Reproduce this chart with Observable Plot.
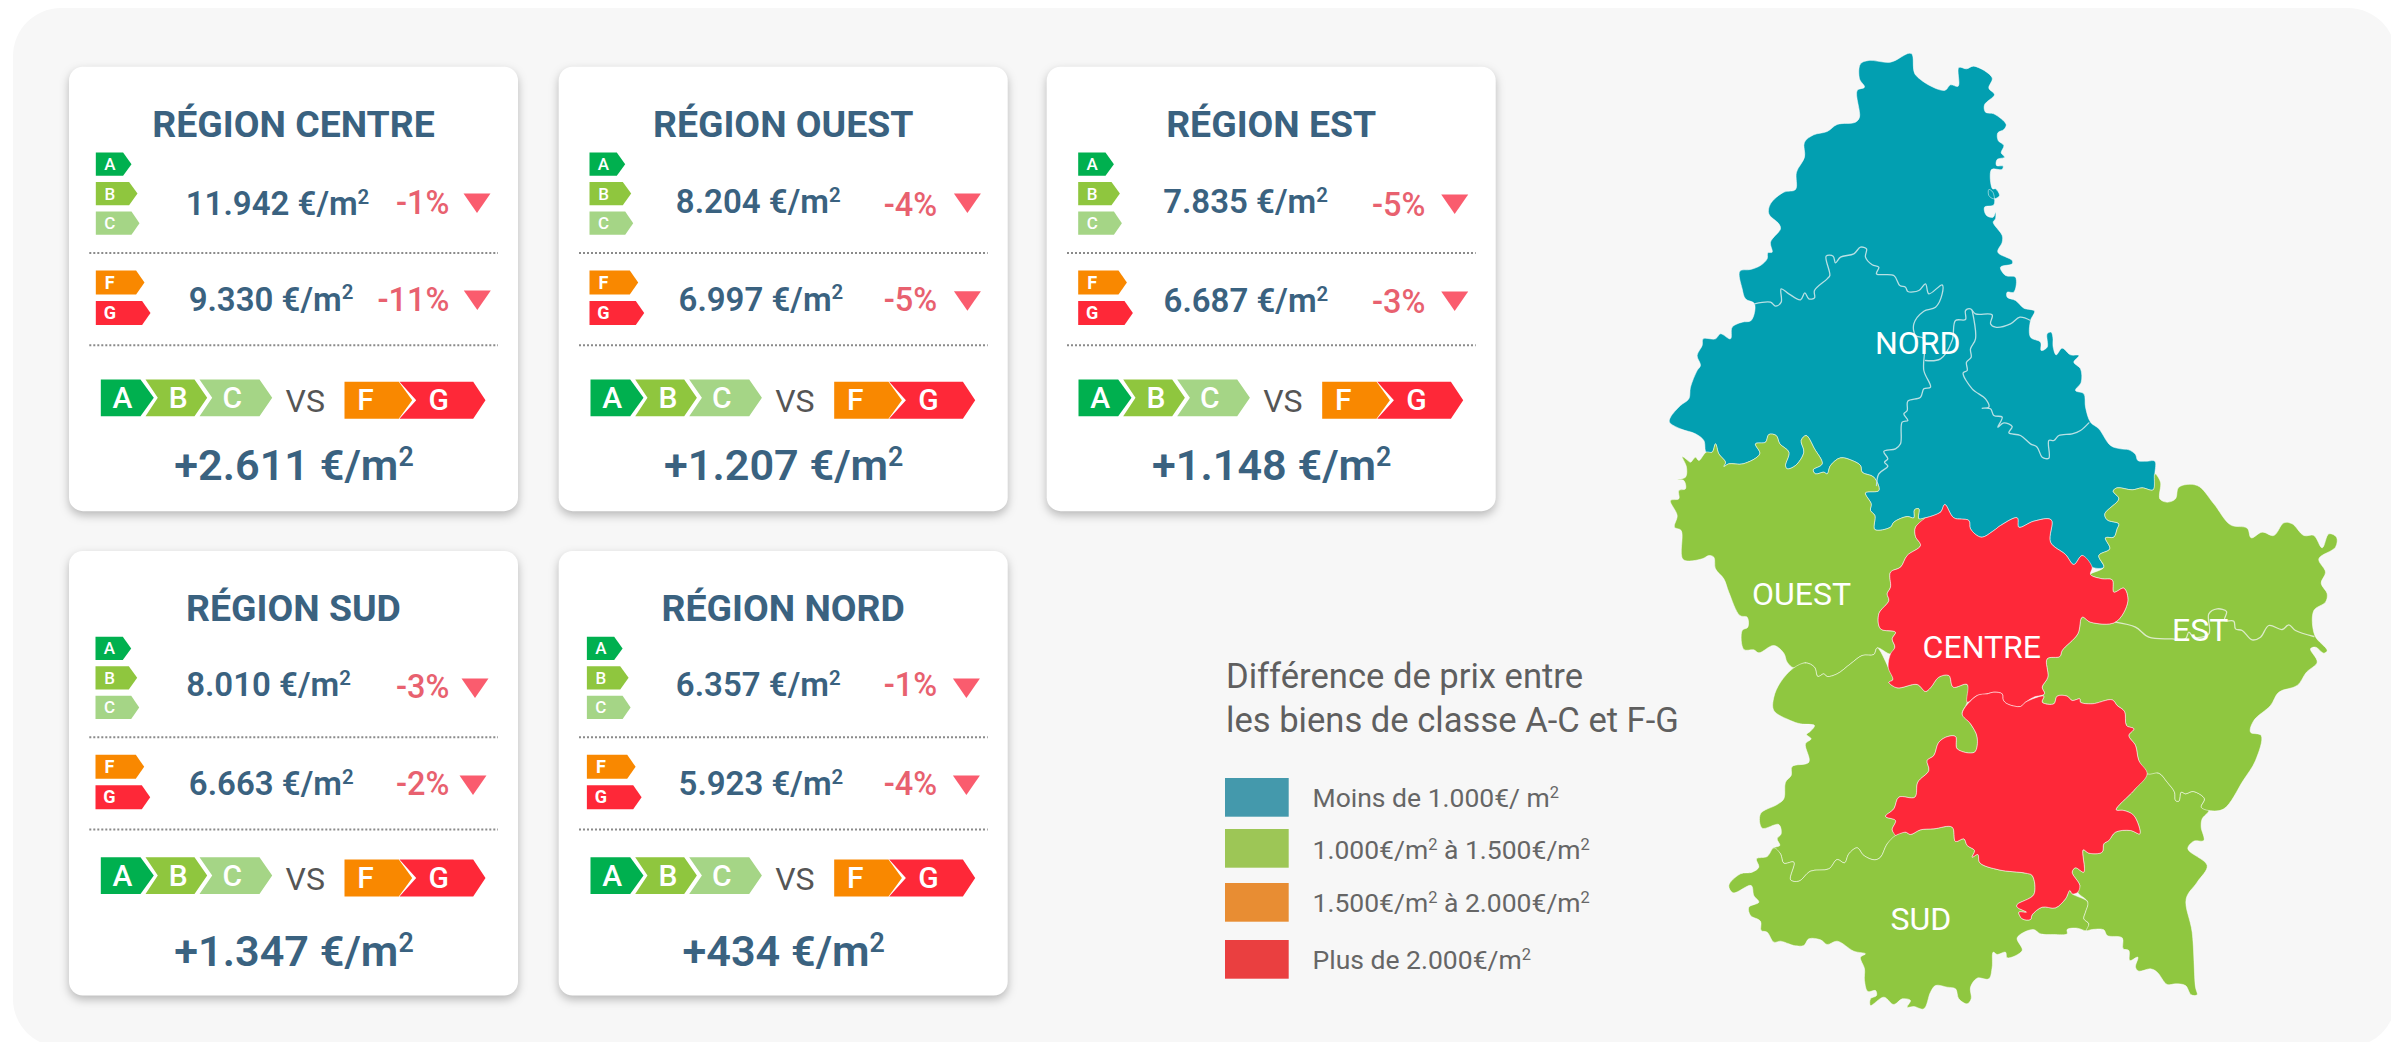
<!DOCTYPE html>
<html lang="fr">
<head>
<meta charset="utf-8">
<script src="https://cdn.jsdelivr.net/npm/d3@7"></script>
<script src="https://cdn.jsdelivr.net/npm/@observablehq/plot@0.6"></script>
<style>
html,body{margin:0;padding:0;background:#fff}
svg{display:block}
</style>
</head>
<body>
<div id="chart"></div>
<script>
// ---- chart values ----
const regionNames = ["RÉGION CENTRE","RÉGION OUEST","RÉGION EST","RÉGION SUD","RÉGION NORD"];
const pricesAC   = [11942, 8204, 7835, 8010, 6357];
const changesAC  = [-1, -4, -5, -3, -1];
const pricesFG   = [9330, 6997, 6687, 6663, 5923];
const changesFG  = [-11, -5, -3, -2, -4];
const priceGaps  = [2611, 1207, 1148, 1347, 434];
const classesGood = ["A","B","C"];
const classesBad  = ["F","G"];
const legendTitle = ["Différence de prix entre","les biens de classe A-C et F-G"];
const legendLabels = ["Moins de 1.000€/ m²","1.000€/m² à 1.500€/m²","1.500€/m² à 2.000€/m²","Plus de 2.000€/m²"];
const legendColors = ["#4499ac","#9dc656","#e88d33","#ea3f40"];
const mapLabels = ["NORD","OUEST","CENTRE","EST","SUD"];

// ---- map outline (frames: picture offset of each traced view) ----
const fA=[1660,45], fB=[1660,430], fC=[2000,430], fD=[1720,730];
const nordEast=[[fA,[752,24,765,88,852,135,870,118,893,122,895,66,918,70,940,62,995,97,985,128,1002,147,972,178,975,200,1000,205,1037,237,1030,252,1012,262,1013,285,1030,300,1022,322,1032,335,1010,342,1008,360,1028,362,1024,372,993,372,996,430,1005,430,1017,450,1000,460,985,450,985,432,997,440,1000,478,972,485,978,510,998,515,1005,500,1005,520,998,530,1025,570,1025,590,1012,620,1055,645,1055,655,1020,665,1035,690,1065,695,1060,740,1040,740,1040,755,1065,765,1090,788,1122,797,1110,825,1110,875,1140,890,1142,915,1160,905,1160,865,1172,860,1177,875,1178,905,1187,928,1205,908,1230,928,1255,930,1240,950,1260,970,1262,1010,1245,1035,1270,1045,1275,1085,1290,1130,1315,1150,1350,1200]],[fC,[360,55,385,58,405,72,412,90,440,92,463,92]]];
const borderNordEst=[[fC,[463,130,458,178,425,172,395,178,350,172,338,182,355,205,313,250,320,268,355,280,350,295,340,320,315,322,328,355,295,375,310,410]]];
const borderNordCentre=[[fC,[275,410,245,375,220,402,195,372,150,335,152,268,100,272,55,290,50,262,0,285]],[fB,[1000,300,962,320,930,295,925,270,880,262,853,222,840,245,795,262]]];
const borderStrip=[[fB,[775,265,775,235,762,238,760,262,740,258,700,275,690,290,643,297]]];
const borderNordOuest=[[fB,[643,255,630,240,632,220,615,187,655,180,640,140,605,125,600,105,575,90,540,82,510,105,500,130,490,125,465,130,458,118,485,100,462,55,437,15,422,30,430,65,405,105,380,115,375,105,385,65,358,40,347,15,325,12,315,35,285,40,298,70,248,100,205,100,190,108,195,95,175,70,165,40,155,65,137,65]]];
const nordWest=[[fA,[130,1185,105,1165,60,1150,27,1130,30,1115,60,1080,85,1060,90,1025,110,975,120,960,110,930,125,900,128,880,165,880,180,865,210,880,215,845,245,830,272,825,282,775,255,760,245,730,238,677,270,672,300,660,320,640,322,622,335,620,330,590,360,550,355,535,325,505,330,475,370,440,405,432,408,380,432,335,432,290,460,268,500,258,530,237,585,230,597,215,590,135,612,125,597,100,600,55,625,45,690,50]]];
const ouestNorthWest=[[fB,[65,78,80,88,90,95,105,80,115,90]]];
const borderOuestCentre=[[fB,[795,262,765,290,765,318,780,345,740,375,720,410,690,425,690,470,680,490,685,510,655,550,660,595,705,605,695,625,703,650,690,670]]];
const borderOuestCap=[[fB,[650,652,640,672,605,675,570,700,530,730,500,738,490,730,472,738,462,710,435,697,400,712]]];
const ouestWest=[[fB,[380,695,370,668,340,645,295,667,280,658,250,657,245,600,262,590,260,560,238,555,205,485,190,445,165,415,160,380,145,375,125,385,68,387,62,300,42,290,50,255,30,210,55,205,55,180,75,175,70,150,50,147,75,140,78,110]]];
const borderCapCentre=[[fB,[683,710,697,748,685,755,710,772,770,762,795,783,810,772,835,740,865,735,878,770,920,762,920,815]]];
const borderCapLower=[[fB,[905,850,930,880,950,920,942,965,890,955,885,918,862,918]],[fD,[655,35,640,75,620,90,625,120,592,155,583,200,535,200,520,235,495,258,525,270,515,298,525,315]]];
const borderCapSud=[[fD,[500,340,480,380,462,388,430,375,410,352,385,370,372,397,350,387,325,415,270,422,235,452,210,448,220,395,190,398,180,370,160,352]]];
const capWest=[[fD,[178,345,170,325,182,310,175,282,125,293,120,250,170,222,190,205,195,155,212,135,215,108,265,95,255,40,272,25,258,12,270,2]],[fB,[462,885,420,880,390,870,340,840,340,800,360,755]]];
const borderCentreEstA=[[fC,[270,432,305,445,335,448,340,485,370,473,382,512,345,575,270,575,245,560,232,610,185,660,178,678,140,685,142,740,125,770,132,790,100,800]]];
const borderCentreMid=[[fC,[75,815,60,828,20,820,8,808,5,790]],[fB,[1000,785,980,790,950,795]]];
const borderCentreEstB=[[fC,[130,797,125,815,160,820,170,797,200,797,215,810,238,805,240,815,275,820,335,808,350,825,372,843,378,885,400,895,385,915,405,945,415,990]]];
const borderLowerSE=[[fD,[1280,130,1240,180,1187,238,1210,240,1240,255,1258,310,1230,300,1185,305,1165,330,1150,340,1145,365,1105,368,1088,358,1090,425,1065,412,1055,425,1078,465,1072,485]]];
const borderLowerSud=[[fD,[1055,490,1048,480,1035,505,1005,532,965,530,935,553,930,567,905,565,895,545,918,545,890,530,890,522,940,492,935,435,915,428,835,418,778,397,772,372,755,380,762,360,740,345,730,325,705,333,695,290,640,295,600,298,570,312,555,305,525,315]]];
const borderSudSE=[[fD,[1102,515,1095,545,1090,565,1105,580,1098,600]]];
const sudOuter=[[fD,[1070,593,1040,597,1040,610,1000,612,960,610,938,597,890,622,905,660,860,682,855,665,830,672,818,665,815,710,805,745,770,743,750,770,752,805,740,820,715,805,705,775,680,770,645,765,630,785,610,835,580,828,560,830,570,810,545,805,520,822,490,800,450,825,450,805,468,795,465,780,442,783,432,750,432,715,420,680,435,670,400,662,350,632,320,642,300,628,265,625,250,645,220,645,205,640,180,632,160,635,140,605,122,600,120,572,90,555,85,530,115,515,100,495,92,465,38,487,25,465,60,430,95,425,115,410,108,385,140,378]]];
const borderEstSE=[[fD,[1315,128,1340,155,1362,185,1365,210,1375,212,1382,185,1395,190,1418,183,1452,205,1442,230,1465,240]]];
const seOuter=[[fD,[1445,265,1442,290,1450,330,1420,332,1402,355,1460,405,1430,455,1397,505,1415,605,1425,770,1430,793,1412,793,1395,765,1365,760,1340,762,1310,725,1290,715,1255,722,1245,710,1252,680,1228,690,1225,660,1208,655,1205,622,1160,615,1150,598,1115,597]]];
const estOuter=[[fC,[480,155,478,205,500,215,525,205,535,170,590,165,640,220,690,283,740,293,752,322,785,305,820,315,850,277,875,280,910,315,940,315,965,352,985,310,1008,320,1005,350,955,385,975,425,962,458,980,490,975,515,940,540,943,615,980,660,970,668,945,650,930,655,950,695,918,725,890,765,835,785,810,825,760,870,750,905,782,915,765,990]],[fD,[1568,150,1510,235]]];
const cantonLines=[
 [[fA,[282,775,330,770,345,782,362,770,362,730,385,745,420,763,433,742,445,760,462,757,462,735,500,700,508,690,497,632,518,632,525,652,540,635,580,625,600,605,618,610,615,635,635,658,655,665,648,685,700,690,718,720,735,725,742,738,775,735,795,715,805,745,845,718,845,745,825,785,790,797,760,835,765,870,790,880,790,975,810,1025,790,1030,780,1055,742,1067,740,1095,730,1105,742,1125,725,1130,720,1195,705,1210,670,1218,682,1240,672,1250,682,1262,655,1285,648,1320]]],
 [[fA,[1110,825,1078,815,1050,835,1005,845,990,835,995,808,945,805,930,790,915,795,915,822,885,825,875,885,840,940,795,945]]],
 [[fA,[935,795,945,880,930,910,932,935,918,950,920,975,908,982,935,1030,975,1060,985,1085,965,1088,990,1090,1000,1110,1025,1115,1012,1145,1030,1132,1055,1143,1045,1162,1080,1170,1110,1195,1130,1205,1145,1235,1165,1238,1165,1185,1180,1185,1195,1170,1235,1165,1260,1155,1285,1132]]]
];
const eastLine=[[fC,[345,575,405,590,445,620,515,625,555,625,565,605,580,620,625,610,625,550,650,535,678,543,672,570,700,572,705,595,725,600,755,628,780,620,805,585,845,597,865,583,885,600,940,618]]];

// ---- layout ----
const W=2391,H=1042;
const cardX=[69,558.7,1046.7,69,558.7], cardY=[66.7,66.7,66.7,551,551], cardW=449, cardH=444.5;
const tagDx=[26.3,30.3,31,26,27.7];
const v1Cx=[208,199,198.3,199,199], v1Base=[147.7,146,146,144.7,144.7];
const p1Right=[380,378,378.3,380,378], p1Base=[146.7,148.3,148.3,146.7,144];
const t1Left=[394,394.7,394,392,393.7], t1Top=[126.3,126.3,127.3,127,127];
const v2Cx=[201.5,201.7,198.7,201.7,201.7], v2Base=[243.3,243.3,245,243.7,243.7];
const p2Right=[380,378,378.3,380,378], p2Base=[243.3,243.3,246,243,243.7];
const t2Left=[394.3,394.7,394,390,393.7], t2Top=[223.3,224,224.3,224,224];
const chevTop=[312.3,312.3,312.3,305.7,305.7];
const vsBase=[345,345,345,338.3,338.3], bigBase=[413,413,413,414.7,414.7];
const classColor={A:"#00b04f",B:"#8fc63e",C:"#a5d586",F:"#f98800",G:"#fe2838"};
const tagGeom={A:[85.3,23.3,27.3,35.7],B:[114.7,23.3,33.3,41.7],C:[144.3,23.3,35.7,43.7],F:[203.3,24,40.3,48.7],G:[233.7,24,46.3,54.7]};
const chevGeom={A:[31.3,71,84.3,0,53],B:[76,125,137.7,12.3,108.7],C:[130,190,202.7,12.7,162.7],F:[275,329.3,342.7,0,296],G:[330,403.7,416,16.7,369.3]};

const price=v=>d3.format(",")(v).replace(/,/g,".");
const pts=segs=>segs.flatMap(([f,a])=>{const o=[];for(let i=0;i<a.length;i+=2)o.push([f[0]+a[i]/3,f[1]+a[i+1]/3]);return o;});
const rev=segs=>pts(segs).slice().reverse();
const ring=(...parts)=>parts.flatMap(p=>(p.length&&typeof p[0][0]==="number")?p:pts(p));

const teal="#029fb1",green="#8fc740",red="#fe2839";
const polys=[];
const addPoly=(id,fill,coords)=>coords.forEach(([x,y])=>polys.push({id,fill,x,y}));
const mapRows=[];
const addMap=(id,fill,coords)=>coords.forEach(([x,y])=>mapRows.push({id,fill,x,y}));
addMap("nord",teal,ring(nordEast,borderNordEst,borderNordCentre,borderStrip,borderNordOuest,nordWest));
addMap("ouest",green,ring(ouestNorthWest,rev(borderNordOuest),rev(borderStrip),borderOuestCentre,borderOuestCap,ouestWest));
addMap("cap",green,ring(rev(borderOuestCap),borderCapCentre,borderCapLower,borderCapSud,capWest));
addMap("sud",green,ring(rev(borderLowerSud),borderSudSE,sudOuter,rev(borderCapSud)));
addMap("se",green,ring(borderEstSE,seOuter,rev(borderSudSE),rev(borderLowerSE)));
addMap("est",green,ring(estOuter,rev(borderEstSE),rev(borderLowerSE).slice(-1),rev(borderCentreEstB),rev(borderCentreEstA),rev(borderNordEst)));
addMap("centreN",red,ring(rev(borderNordCentre),borderCentreEstA,borderCentreMid,rev(borderCapCentre),rev(borderOuestCentre)));
addMap("centreS",red,ring(rev(borderCentreMid),borderCentreEstB,borderLowerSE,borderLowerSud,rev(borderCapLower)));

const inner=[];
cantonLines.forEach((l,i)=>pts(l).forEach(([x,y])=>inner.push({id:"c"+i,x,y})));
const innerE=pts(eastLine).map(([x,y])=>({x,y}));

// cards
const cards=regionNames.map((name,i)=>({name,i,x:cardX[i],y:cardY[i]}));
const txt={title:[],value:[],pct:[],big:[],vs:[],tagS:[],tagB:[],chev:[]};
const dividers=[];
regionNames.forEach((name,i)=>{
  const X=cardX[i],Y=cardY[i];
  txt.title.push({x:X+224,y:Y+69.5,t:name});
  txt.value.push({x:X+v1Cx[i],y:Y+v1Base[i],t:`${price(pricesAC[i])} €/m²`});
  txt.value.push({x:X+v2Cx[i],y:Y+v2Base[i],t:`${price(pricesFG[i])} €/m²`});
  txt.pct.push({x:X+p1Right[i],y:Y+p1Base[i],t:`${changesAC[i]}%`});
  txt.pct.push({x:X+p2Right[i],y:Y+p2Base[i],t:`${changesFG[i]}%`});
  txt.big.push({x:X+224.5,y:Y+bigBase[i],t:`+${price(priceGaps[i])} €/m²`});
  txt.vs.push({x:X+235.7,y:Y+vsBase[i],t:"VS"});
  [[t1Left[i],t1Top[i]],[t2Left[i],t2Top[i]]].forEach(([l,t],k)=>{
    addPoly(`tri${i}${k}`,"#fa5c6e",[[X+l,Y+t],[X+l+27,Y+t],[X+l+13.5,Y+t+19.5]]);
  });
  [185.7,278].forEach(d=>dividers.push({y:Y+d,x1:X+20.3,x2:X+429}));
  [...classesGood,...classesBad].forEach(c=>{
    const [ty,th,body,tip]=tagGeom[c], lx=X+tagDx[i], ty0=Y+ty;
    addPoly(`tag${i}${c}`,classColor[c],[[lx,ty0],[lx+body,ty0],[lx+tip,ty0+th/2],[lx+body,ty0+th],[lx,ty0+th]]);
    (classesGood.includes(c)?txt.tagS:txt.tagB).push({x:lx+14,y:ty0+th/2+6,t:c});
  });
  const top=Y+chevTop[i];
  [...classesGood,...classesBad].forEach(c=>{
    const [l,b,tp,notch,cx]=chevGeom[c];
    const t0=classesGood.includes(c)?top:top+2.3, h=classesGood.includes(c)?36.7:37;
    const c0=[[X+l,t0],[X+b,t0],[X+tp,t0+h/2],[X+b,t0+h],[X+l,t0+h]];
    if(notch) c0.push([X+l+notch,t0+h/2]);
    addPoly(`chev${i}${c}`,classColor[c],c0);
    txt.chev.push({x:X+cx,y:t0+h/2+10,t:c});
  });
});

// legend
const legBase=[806.5,858,911,968], legTop=[778,829,883,940];
const legendRects=legendColors.map((c,i)=>({c,y1:legTop[i],y2:legTop[i]+38.7}));
const legendText=legendLabels.map((t,i)=>({t,x:1312,y:legBase[i]}));
const legendHead=legendTitle.map((t,i)=>({t,x:1225.5,y:687.5+i*43.5}));
const mapLabelPos=[[1917.3,353.3],[1801,604.3],[1981.3,657.7],[2199.7,640],[1920.3,929]];
const mapText=mapLabels.map((t,i)=>({t,x:mapLabelPos[i][0],y:mapLabelPos[i][1]}));

const T=(data,o)=>Plot.text(data,{x:"x",y:"y",text:"t",lineAnchor:"bottom",fontFamily:"Roboto",...o});
const shadow=(index,scales,values,dims,ctx,next)=>{const g=next(index,scales,values,dims,ctx);g.style.filter="drop-shadow(0 4px 5px rgba(0,0,0,.26))";return g;};
const chart=Plot.plot({
  width:W,height:H,margin:0,
  x:{domain:[0,W],range:[0,W],axis:null},
  y:{domain:[0,H],range:[0,H],axis:null},
  color:{type:"identity"},
  style:{background:"transparent",fontFamily:"Roboto"},
  marks:[
    Plot.rect([{}],{x1:()=>13,x2:()=>2396,y1:()=>8,y2:()=>1047,fill:"#f7f7f7",rx:48}),
    Plot.rect(cards,{x1:d=>d.x,x2:d=>d.x+cardW,y1:d=>d.y,y2:d=>d.y+cardH,fill:"#fff",rx:14,render:shadow}),
    Plot.ruleY(dividers,{y:"y",x1:"x1",x2:"x2",stroke:"#8a8a8a",strokeWidth:2,strokeDasharray:"2 2"}),
    Plot.line(polys,{x:"x",y:"y",z:"id",fill:"fill",stroke:"none",curve:"linear-closed"}),
    T(txt.tagS,{fill:"#fff",fontSize:17,fontWeight:500}),
    T(txt.tagB,{fill:"#fff",fontSize:18,fontWeight:700}),
    T(txt.chev,{fill:"#fff",fontSize:30,fontWeight:500}),
    T(txt.title,{fill:"#3a6280",fontSize:37.4,fontWeight:700}),
    T(txt.value,{fill:"#3a6280",fontSize:33,fontWeight:600}),
    T(txt.pct,{fill:"#e8616f",fontSize:32.5,fontWeight:500,textAnchor:"end"}),
    T(txt.big,{fill:"#3a6280",fontSize:43.2,fontWeight:600}),
    T(txt.vs,{fill:"#555",fontSize:32,fontWeight:400}),
    T(legendHead,{fill:"#5f5f5f",fontSize:34.6,fontWeight:400,textAnchor:"start"}),
    Plot.rect(legendRects,{x1:()=>1225,x2:()=>1288.7,y1:"y1",y2:"y2",fill:"c"}),
    T(legendText,{fill:"#666",fontSize:26.5,fontWeight:400,textAnchor:"start"}),
    Plot.line(mapRows,{x:"x",y:"y",z:"id",fill:"fill",stroke:"#fff",strokeOpacity:.5,strokeWidth:1,curve:"catmull-rom-closed"}),
    Plot.line(inner,{x:"x",y:"y",z:"id",stroke:"#b9e0e4",strokeWidth:1.3,curve:"catmull-rom"}),
    Plot.line(innerE,{x:"x",y:"y",stroke:"#dcebc8",strokeWidth:1.3,curve:"catmull-rom"}),
    T(mapText,{fill:"#fff",fontSize:32,fontWeight:400})
  ]
});
document.getElementById("chart").append(chart);
// typeset the squared unit as a true superscript, as in the original
chart.querySelectorAll("text").forEach(el=>{
  const s=el.textContent;
  if(!s.includes("²")) return;
  const fs=parseFloat(getComputedStyle(el).fontSize);
  const parts=s.split("²");
  el.textContent="";
  const NS="http://www.w3.org/2000/svg";
  parts.forEach((p,k)=>{
    const span=document.createElementNS(NS,"tspan");
    span.textContent=p;
    if(k>0&&p) span.setAttribute("dy",(0.34*fs).toFixed(2));
    if(p) el.append(span);
    if(k<parts.length-1){
      const sup=document.createElementNS(NS,"tspan");
      sup.textContent="2";
      sup.setAttribute("font-size",(0.62*fs).toFixed(2));
      sup.setAttribute("dy",(-0.34*fs).toFixed(2));
      el.append(sup);
    }
  });
});
</script>
</body>
</html>
